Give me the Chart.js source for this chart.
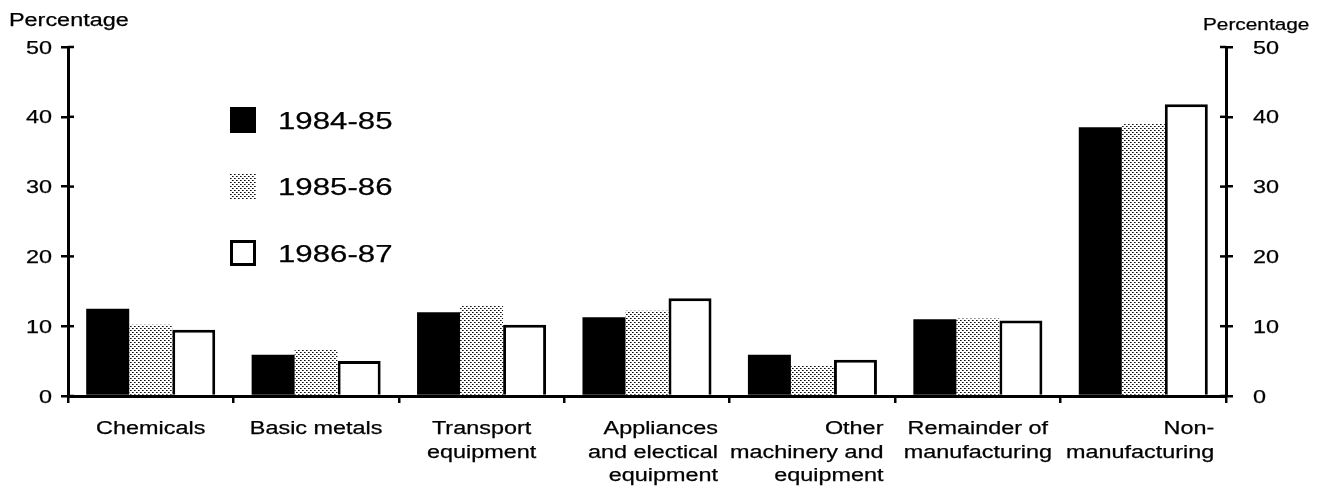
<!DOCTYPE html>
<html><head><meta charset="utf-8">
<script src="https://cdn.jsdelivr.net/npm/chart.js@4"></script>
<style>html,body{margin:0;padding:0;background:#fff}#wrap{width:1333px;height:490px;position:relative}</style>
</head><body><div id="wrap"><canvas id="c" width="1333" height="490"></canvas></div>
<script>
const categories = [["Chemicals"],["Basic metals"],["Transport","equipment"],["Appliances","and electical","equipment"],["Other","machinery and","equipment"],["Remainder of","manufacturing"],["Non-","manufacturing"]];
const labelAlign = ['center','center','center','right','right','center','right'];
const seriesNames = ['1984-85','1985-86','1986-87'];
const values8485 = [12.5, 5.9, 12.0, 11.3, 5.9, 11.0, 38.5];
const values8586 = [10.2, 6.7, 12.9, 12.2, 4.4, 11.1, 39.0];
const values8687 = [9.5, 5.0, 10.2, 14.0, 5.2, 10.8, 41.8];
const yTickValues = [0, 10, 20, 30, 40, 50];
const axisTitle = 'Percentage';

const FONT = '"Liberation Sans", Arial, Helvetica, sans-serif';
const SX = 1.3;

const ctx0 = document.getElementById('c').getContext('2d');
const dots = ctx0.createPattern((() => {
  const t = document.createElement('canvas');
  t.width = 4; t.height = 4;
  const g = t.getContext('2d');
  g.fillStyle = '#fff'; g.fillRect(0, 0, 4, 4);
  g.fillStyle = '#111';
  g.fillRect(0, 0, 1, 1); g.fillRect(2, 2, 1, 1);
  g.fillStyle = '#666';
  g.fillRect(1, 0, 1, 1); g.fillRect(3, 2, 1, 1);
  return t;
})(), 'repeat');

function stretchText(ctx, txt, x, y, align, size) {
  ctx.save();
  ctx.font = size + 'px ' + FONT;
  ctx.textBaseline = 'alphabetic';
  ctx.textAlign = 'left';
  ctx.fillStyle = '#000';
  ctx.strokeStyle = '#000';
  ctx.lineWidth = 0.25;
  const w = ctx.measureText(txt).width * SX;
  const left = align === 'right' ? x - w : align === 'center' ? x - w / 2 : x;
  ctx.translate(left, y);
  ctx.scale(SX, 1);
  ctx.fillText(txt, 0, 0);
  ctx.strokeText(txt, 0, 0);
  ctx.restore();
}

const textPlugin = {
  id: 'textPlugin',
  afterDraw(chart) {
    const ctx = chart.ctx;
    const ca = chart.chartArea;
    const y = chart.scales.y, y2 = chart.scales.y2, x = chart.scales.x;
    ctx.save();
    ctx.strokeStyle = '#000'; ctx.lineWidth = 2.5;
    yTickValues.forEach(v => {
      const py = y.getPixelForValue(v);
      ctx.beginPath(); ctx.moveTo(ca.left, py); ctx.lineTo(ca.left + 6, py); ctx.stroke();
      const py2 = y2.getPixelForValue(v);
      ctx.beginPath(); ctx.moveTo(ca.right, py2); ctx.lineTo(ca.right - 6, py2); ctx.stroke();
    });
    ctx.restore();
    yTickValues.forEach(v => {
      stretchText(ctx, String(v), ca.left - 16, y.getPixelForValue(v) + 6.5, 'right', 18);
      stretchText(ctx, String(v), ca.right + 27, y2.getPixelForValue(v) + 6.5, 'left', 18);
    });
    categories.forEach((lines, i) => {
      const cx = x.getPixelForValue(i);
      const al = labelAlign[i];
      const ax = al === 'right' ? cx + 71 : cx;
      lines.forEach((ln, j) => stretchText(ctx, ln, ax, ca.bottom + 38 + j * 23.5, al, 18));
    });
    stretchText(ctx, axisTitle, 9, 26, 'left', 18);
    stretchText(ctx, axisTitle, 1203, 30, 'left', 16);
    chart.data.datasets.forEach((ds, i) => {
      const lx = ca.left + 162;
      const cy = ca.top + 73 + i * 66.5;
      ctx.save();
      ctx.fillStyle = ds.backgroundColor;
      ctx.fillRect(lx, cy - 13, 26, 26);
      if (ds.borderWidth) {
        ctx.strokeStyle = '#000'; ctx.lineWidth = 3;
        ctx.strokeRect(lx + 1.5, cy - 11.5, 23, 23);
      }
      ctx.restore();
      stretchText(ctx, ds.label, lx + 48, cy + 8.5, 'left', 24);
    });
  }
};

new Chart(document.getElementById('c'), {
  type: 'bar',
  data: {
    labels: categories.map(c => c.join(' ')),
    datasets: [
      { label: seriesNames[0], data: values8485, backgroundColor: '#000', borderWidth: 0 },
      { label: seriesNames[1], data: values8586, backgroundColor: dots, borderWidth: 0 },
      { label: seriesNames[2], data: values8687, backgroundColor: '#fff', borderColor: '#000', borderWidth: 3 }
    ]
  },
  options: {
    responsive: false,
    animation: false,
    devicePixelRatio: 1,
    layout: { padding: { top: 47, left: 0, right: 0, bottom: 0 } },
    plugins: { legend: { display: false }, tooltip: { enabled: false } },
    datasets: { bar: { categoryPercentage: 0.78, barPercentage: 1.0 } },
    scales: {
      x: {
        offset: true,
        grid: { display: true, drawOnChartArea: false, drawTicks: true, tickLength: 7, color: '#000', lineWidth: 2.5, offset: true },
        border: { display: true, color: '#000', width: 3 },
        ticks: { display: false },
        afterFit(s) { s.height = 94; }
      },
      y: {
        position: 'left', min: 0, max: 50,
        ticks: { display: false, stepSize: 10 },
        grid: { drawOnChartArea: false, drawTicks: true, tickLength: 7, color: '#000', lineWidth: 2.5 },
        border: { display: true, color: '#000', width: 3 },
        afterFit(s) { s.width = 68; }
      },
      y2: {
        position: 'right', min: 0, max: 50, display: true,
        ticks: { display: false, stepSize: 10 },
        grid: { drawOnChartArea: false, drawTicks: true, tickLength: 7, color: '#000', lineWidth: 2.5 },
        border: { display: true, color: '#000', width: 3 },
        afterFit(s) { s.width = 107; }
      }
    }
  },
  plugins: [textPlugin]
});
</script></body></html>
